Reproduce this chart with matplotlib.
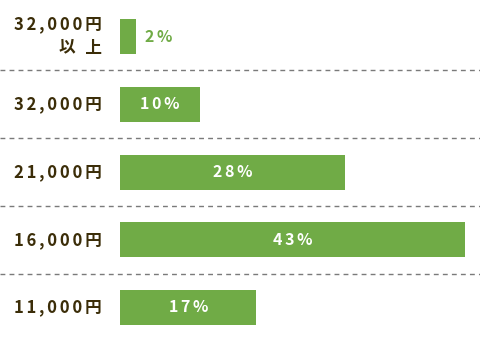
import matplotlib
matplotlib.use("Agg")
import matplotlib.pyplot as plt

categories = ["32,000円\n以\u2005上", "32,000円", "21,000円", "16,000円", "11,000円"]
values = [2, 10, 28, 43, 17]
labels = ["2%", "10%", "28%", "43%", "17%"]

plt.rcParams['font.family'] = ['Noto Sans CJK JP', 'DejaVu Sans']

W, H = 481, 341
fig = plt.figure(figsize=(W / 100, H / 100), dpi=100)
ax = fig.add_axes([0, 0, 1, 1])
ax.set_axis_off()

bar_color = "#70ab46"
text_color = "#3b2d08"
TS = "\u2006"


def spaced(s):
    return "\n".join(TS.join(list(line)) for line in s.split("\n"))


px_per = 345 / 43.0
x0 = 120
xl = (-x0 / px_per, (W - x0) / px_per)
ax.set_xlim(*xl)
row = 67.75
top = 36.5
ax.set_ylim((H - top) / row, -top / row)

ypos = list(range(len(categories)))
ax.barh(ypos, values, height=35 / row, color=bar_color, left=0)

for i in range(len(categories) - 1):
    ax.axhline(i + 0.5, color="#7a7a7a", lw=1.0, dashes=(3.5, 3))

label_x = xl[0] + 102 / W * (xl[1] - xl[0])
for i, (c, v, l) in enumerate(zip(categories, values, labels)):
    ax.text(label_x, i, spaced(c), ha="right", va="center", fontsize=12,
            fontweight="bold", color=text_color, linespacing=1.4)
    if v < 5:
        ax.text(v + 1.1, i, spaced(l), ha="left", va="center", fontsize=11.5,
                fontweight="bold", color=bar_color)
    else:
        ax.text(v / 2, i, spaced(l), ha="center", va="center", fontsize=11.5,
                fontweight="bold", color="white")

fig.savefig("out.png", dpi=100)
